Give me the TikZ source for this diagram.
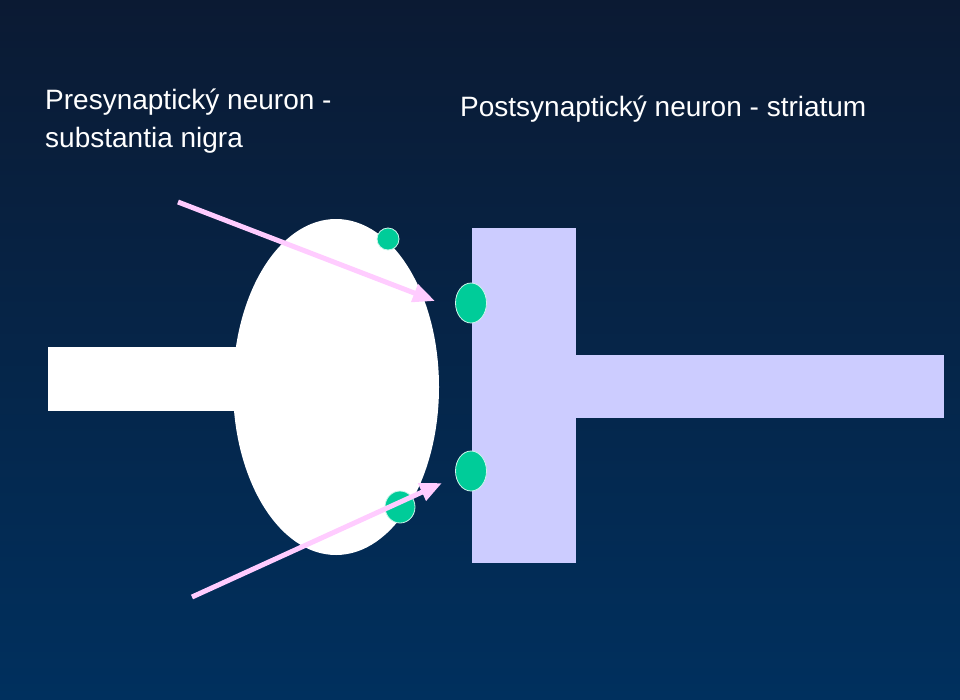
\documentclass[tikz,border=0pt]{standalone}
\usepackage{fontspec}
\setmainfont{Liberation Sans}
\usetikzlibrary{arrows.meta,shapes.geometric}
\definecolor{bgtop}{HTML}{0B1A33}
\definecolor{bgbot}{HTML}{00305E}
\definecolor{cell}{HTML}{CCCCFF}
\definecolor{rec}{HTML}{00CC99}
\definecolor{pinkarr}{HTML}{FFCCFF}
\tikzset{
  receptor/.style={fill=rec,draw=white!80!rec,line width=0.8pt},
  drug/.style={draw=pinkarr,line width=5pt,-{Triangle[length=22pt,width=18pt]}},
  lbl/.style={text=white,font=\fontsize{28}{32}\selectfont,inner sep=0pt,anchor=base west}
}
\begin{document}
\begin{tikzpicture}[x=1pt,y=-1pt]
\shade[top color=bgtop,bottom color=bgbot] (0,0) rectangle (960,699);
\useasboundingbox (0,0) rectangle (960,699);
% presynaptic
\fill[white] (48,347) rectangle (250,411);
\fill[white] (336,387) ellipse [x radius=103, y radius=168];
% postsynaptic
\fill[cell] (472,228) rectangle (576,563);
\fill[cell] (575,355) rectangle (944,418);
% receptors
\node[receptor,circle,minimum size=22pt,inner sep=0pt] (r1) at (388,239) {};
\node[receptor,ellipse,minimum width=31pt,minimum height=40pt,inner sep=0pt] (r2) at (471,303) {};
\node[receptor,ellipse,minimum width=31pt,minimum height=40pt,inner sep=0pt] (r3) at (471,471) {};
\node[receptor,ellipse,minimum width=30pt,minimum height=32pt,inner sep=0pt] (r4) at (400,507) {};
% arrows
\coordinate (a1s) at (178,202); \coordinate (a1e) at (435,301);
\coordinate (a2s) at (192,597); \coordinate (a2e) at (442,483);
\draw[drug] (a1s) -- (a1e);
\draw[drug] (a2s) -- (a2e);
% labels
\node[lbl] (t1) at (45,109) {Presynaptický neuron -};
\node[lbl] (t2) at (45,147) {substantia nigra};
\node[lbl] (t3) at (460,116) {Postsynaptický neuron - striatum};
\end{tikzpicture}
\end{document}
